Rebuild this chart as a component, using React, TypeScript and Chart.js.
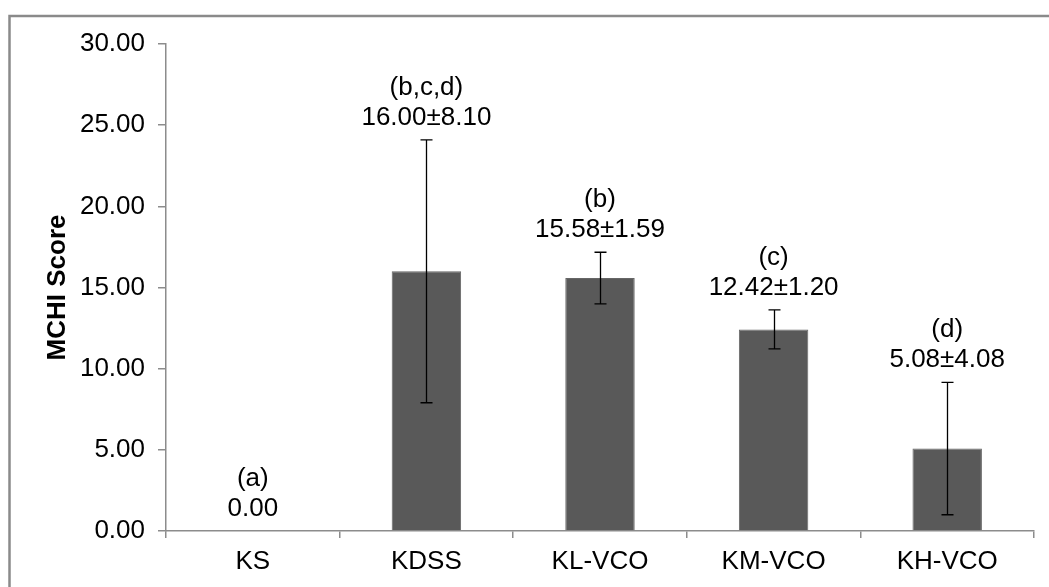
import React, { useEffect, useRef } from "react";
import { Chart, registerables } from "chart.js";

Chart.register(...registerables);

const categories = ["KS", "KDSS", "KL-VCO", "KM-VCO", "KH-VCO"];
const meanValues = [0.0, 16.0, 15.58, 12.42, 5.08];
const sdValues = [0.0, 8.1, 1.59, 1.2, 4.08];
const groupLetters = ["(a)", "(b,c,d)", "(b)", "(c)", "(d)"];
const yMin = 0;
const yMax = 30;
const yStep = 5;

const FONT = "'Liberation Sans', Arial, sans-serif";

const framePlugin = {
  id: "frame",
  beforeDraw(chart: any) {
    const ctx = chart.ctx;
    ctx.save();
    ctx.strokeStyle = "#8a8a8a";
    ctx.lineWidth = 2.5;
    ctx.beginPath();
    ctx.moveTo(9.5, 2000);
    ctx.lineTo(9.5, 16);
    ctx.lineTo(2000, 16);
    ctx.stroke();
    ctx.restore();
  },
};

const errorBarPlugin = {
  id: "errorBars",
  afterDatasetsDraw(chart: any) {
    const ctx = chart.ctx;
    const meta = chart.getDatasetMeta(0);
    const yScale = chart.scales.y;
    ctx.save();
    ctx.strokeStyle = "#000";
    ctx.lineWidth = 1.3;
    meta.data.forEach((bar: any, i: number) => {
      const sd = sdValues[i];
      if (!sd) return;
      const x = Math.round(bar.x) + 0.5;
      const yTop = yScale.getPixelForValue(meanValues[i] + sd);
      const yBot = yScale.getPixelForValue(meanValues[i] - sd);
      ctx.beginPath();
      ctx.moveTo(x, yTop);
      ctx.lineTo(x, yBot);
      ctx.moveTo(x - 6, yTop);
      ctx.lineTo(x + 6, yTop);
      ctx.moveTo(x - 6, yBot);
      ctx.lineTo(x + 6, yBot);
      ctx.stroke();
    });
    ctx.restore();
  },
};

const labelPlugin = {
  id: "valueLabels",
  afterDatasetsDraw(chart: any) {
    const ctx = chart.ctx;
    const meta = chart.getDatasetMeta(0);
    const yScale = chart.scales.y;
    ctx.save();
    ctx.fillStyle = "#000";
    ctx.font = `26px ${FONT}`;
    ctx.textAlign = "center";
    ctx.textBaseline = "alphabetic";
    meta.data.forEach((bar: any, i: number) => {
      const top = yScale.getPixelForValue(meanValues[i] + sdValues[i]);
      const base = top - 15;
      const valText = sdValues[i]
        ? `${meanValues[i].toFixed(2)}±${sdValues[i].toFixed(2)}`
        : meanValues[i].toFixed(2);
      ctx.fillText(valText, bar.x, base);
      ctx.fillText(groupLetters[i], bar.x, base - 30);
    });
    ctx.restore();
  },
};

export default function App() {
  const canvasRef = useRef<HTMLCanvasElement>(null);

  useEffect(() => {
    if (!canvasRef.current) return;
    const chart = new Chart(canvasRef.current, {
      type: "bar",
      data: {
        labels: categories,
        datasets: [
          {
            data: meanValues,
            backgroundColor: "#595959",
            borderColor: "#666666",
            borderWidth: 1,
            categoryPercentage: 1.0,
            barPercentage: 0.4,
          },
        ],
      },
      options: {
        responsive: false,
        animation: false,
        devicePixelRatio: 1,
        layout: { padding: { top: 44, right: 15, left: 0, bottom: 0 } },
        plugins: {
          legend: { display: false },
          tooltip: { enabled: false },
        },
        scales: {
          x: {
            offset: true,
            grid: {
              offset: true,
              drawOnChartArea: false,
              drawTicks: true,
              tickLength: 7,
              color: "#8c8c8c",
              lineWidth: 1.5,
            },
            border: { color: "#8c8c8c", width: 1.5 },
            ticks: {
              color: "#000",
              font: { family: FONT, size: 26 },
              padding: 8,
            },
            afterFit(scale: any) {
              scale.height = 56;
            },
          },
          y: {
            min: yMin,
            max: yMax,
            grid: {
              drawOnChartArea: false,
              drawTicks: true,
              tickLength: 8,
              color: "#8c8c8c",
              lineWidth: 1.5,
            },
            border: { color: "#8c8c8c", width: 1.5 },
            ticks: {
              stepSize: yStep,
              color: "#000",
              font: { family: FONT, size: 26 },
              padding: 13,
              callback: (v: any) => Number(v).toFixed(2),
            },
            title: {
              display: true,
              text: "MCHI Score",
              color: "#000",
              font: { family: FONT, size: 26, weight: "bold" },
              padding: { top: 42, bottom: 0 },
            },
            afterFit(scale: any) {
              scale.width = 166;
            },
          },
        },
      },
      plugins: [framePlugin, errorBarPlugin, labelPlugin],
    });
    return () => chart.destroy();
  }, []);

  return (
    <div style={{ position: "absolute", left: 0, top: 0, width: 1049, height: 587, background: "#fff" }}>
      <canvas ref={canvasRef} width={1049} height={587} style={{ display: "block" }} />
    </div>
  );
}
